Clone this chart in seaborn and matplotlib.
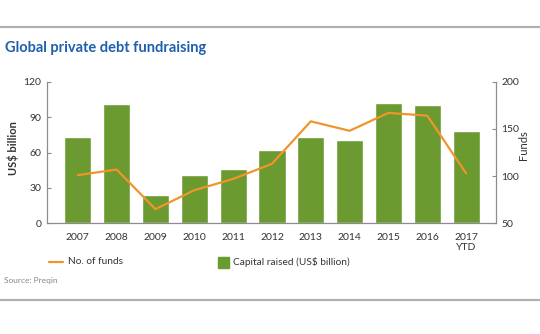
import matplotlib
matplotlib.use("Agg")
import matplotlib.pyplot as plt
import seaborn as sns
import pandas as pd
import numpy as np
from matplotlib.lines import Line2D

years = ["2007", "2008", "2009", "2010", "2011", "2012", "2013", "2014", "2015", "2016", "2017\nYTD"]
capital = [73.5, 101, 23.7, 40.6, 45.6, 62.3, 73, 71, 101.7, 100.6, 78]
funds = [101, 107, 65, 85, 97, 113, 158, 148, 167, 164, 103]

sns.set_theme(style="white")
plt.rcParams['font.family'] = ['Lato', 'DejaVu Sans']

GREEN = "#6a9a30"
ORANGE = "#f0952c"
GRAY = "#8c8c8c"
TXT = "#333333"

df = pd.DataFrame({"year": years, "capital": capital, "funds": funds})

fig = plt.figure(figsize=(5.4, 3.34), dpi=100)
ax = fig.add_axes([46.7/540, (334-223.3)/334, (496-46.7)/540, (223.3-81.7)/334])

sns.barplot(data=df, x="year", y="capital", color=GREEN, width=0.7, ax=ax,
            saturation=1, zorder=2)
ax.set_ylim(0, 120)
ax.set_xlim(-0.8, 10.77)
ax.set_yticks([0, 30, 60, 90, 120])
ax.set_xticks(np.arange(-0.5, 11, 1), minor=True)
ax.tick_params(axis="x", which="major", length=0, pad=7, labelsize=7.5, labelcolor=TXT)
ax.tick_params(axis="x", which="minor", length=3, direction="out", color=GRAY, width=0.8)
ax.tick_params(axis="y", length=3, direction="in", color=GRAY, width=0.8, labelsize=7.5,
               labelcolor=TXT, pad=4)
ax.set_xlabel("")
ax.set_ylabel("")
for s in ["top", "right"]:
    ax.spines[s].set_visible(False)
for s in ["left", "bottom"]:
    ax.spines[s].set_color(GRAY)
    ax.spines[s].set_linewidth(0.9)

ax2 = ax.twinx()
sns.lineplot(x=np.arange(len(years)), y=funds, color=ORANGE, linewidth=1.6, ax=ax2,
             zorder=3)
ax2.set_ylim(50, 200)
ax2.set_yticks([50, 100, 150, 200])
ax2.tick_params(axis="y", length=3, direction="in", color=GRAY, width=0.8, labelsize=7.5,
                labelcolor=TXT, pad=4)
ax2.set_ylabel("")
for s in ["top", "left", "bottom"]:
    ax2.spines[s].set_visible(False)
ax2.spines["right"].set_color(GRAY)
ax2.spines["right"].set_linewidth(0.9)
ax2.set_xlim(-0.8, 10.77)

fig.text(13/540, 1 - 148/334, "US$ billion", fontsize=8, fontweight="bold", color=TXT,
         rotation=90, va="center", ha="center")
fig.text(523/540, 1 - 145/334, "Funds", fontsize=8, color=TXT,
         rotation=90, va="center", ha="center")

# Title and frame lines
fig.add_artist(Line2D([0, 1], [1 - 27/334, 1 - 27/334], color="#b0b0b0", linewidth=1.6))
fig.add_artist(Line2D([0, 1], [1 - 300/334, 1 - 300/334], color="#b0b0b0", linewidth=1.6))
fig.text(5/540, 1 - 48/334, "Global private debt fundraising", fontsize=10.5,
         fontweight="bold", color="#1e5fae", va="center", ha="left")

# Legend
fig.add_artist(Line2D([49/540, 63/540], [1 - 262/334, 1 - 262/334], color=ORANGE, linewidth=1.6))
fig.text(68/540, 1 - 262/334, "No. of funds", fontsize=7.3, color=TXT, va="center", ha="left")
fig.patches.append(plt.Rectangle((218/540, 1 - 268/334), 11/540, 11/334,
                                 transform=fig.transFigure, color=GREEN, figure=fig))
fig.text(233/540, 1 - 262/334, "Capital raised (US$ billion)", fontsize=7.3, color=TXT,
         va="center", ha="left")
fig.text(4/540, 1 - 281/334, "Source: Preqin", fontsize=6, color="#888888",
         va="center", ha="left")

fig.savefig("out.png", dpi=100)
